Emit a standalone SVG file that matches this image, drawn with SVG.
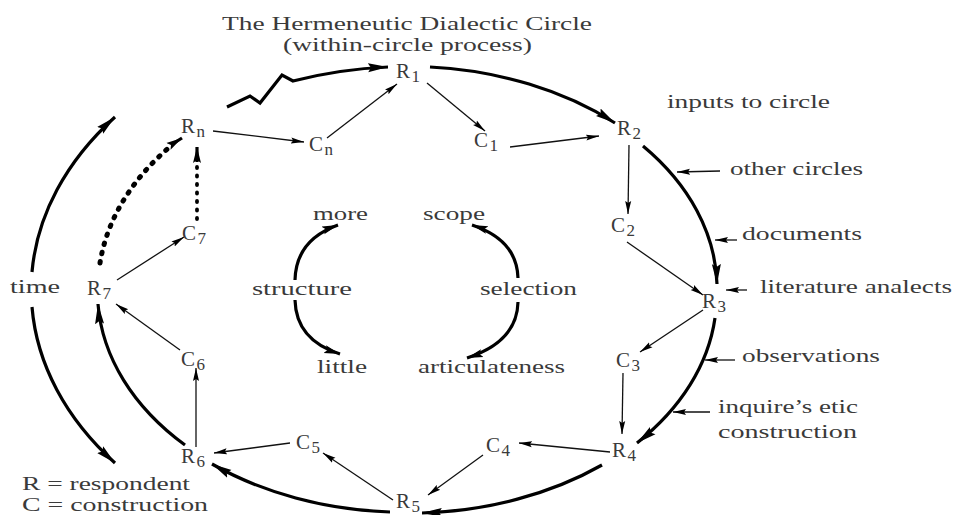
<svg xmlns="http://www.w3.org/2000/svg" width="958" height="515" viewBox="0 0 958 515">
<defs>
<marker id="big" markerUnits="userSpaceOnUse" markerWidth="22" markerHeight="10" refX="20" refY="5" orient="auto"><path d="M0,0.5 L20,5 L0,9.5 L3,5 z" fill="#000"/></marker>
<marker id="mid" markerUnits="userSpaceOnUse" markerWidth="18" markerHeight="10" refX="16" refY="5" orient="auto"><path d="M0,1 L16,5 L0,9 L3,5 z" fill="#000"/></marker>
<marker id="small" markerUnits="userSpaceOnUse" markerWidth="14" markerHeight="8" refX="13" refY="4" orient="auto"><path d="M0,1 L13,4 L0,7 L2,4 z" fill="#000"/></marker>
</defs>
<style>
text{font-family:"Liberation Serif","Times New Roman",serif;fill:#3a3a3a;font-size:19px}
.n{font-size:21px;letter-spacing:1.5px}
.s{font-size:17px}
.thick{fill:none;stroke:#000;stroke-width:3.2}
.thin{fill:none;stroke:#111;stroke-width:1.3}
.dot{fill:none;stroke:#000;stroke-linecap:round}
</style>
<rect width="958" height="515" fill="#fff"/>

<g id="title">
<text x="222" y="30" textLength="370" lengthAdjust="spacingAndGlyphs">The Hermeneutic Dialectic Circle</text>
<text x="283" y="51" textLength="249" lengthAdjust="spacingAndGlyphs">(within-circle process)</text>
</g>

<g id="connectors">
<path class="thick" d="M227,107 L250,96 L260,103 L282,75 L293,81 Q340,69 388,67" marker-end="url(#big)"/>
<path class="thick" d="M430,67 A310 220 0 0 1 615,123" marker-end="url(#big)"/>
<path class="thick" d="M643,146 A310 220 0 0 1 717,284" marker-end="url(#big)"/>
<path class="thick" d="M715,318 A310 220 0 0 1 637,443" marker-end="url(#big)"/>
<path class="thick" d="M602,465 A310 220 0 0 1 422,513" marker-end="url(#big)"/>
<path class="thick" d="M390,512 A310 220 0 0 1 212,464" marker-end="url(#big)"/>
<path class="thick" d="M185,445 A310 220 0 0 1 98,304" marker-end="url(#big)"/>
<path class="dot" stroke-width="5" stroke-dasharray="1.5 8" d="M100,263 A310 220 0 0 1 172,145"/>
<path class="thick" stroke-width="1" d="M174,143 L182,138" marker-end="url(#mid)"/>
<path class="dot" stroke-width="3.8" stroke-dasharray="1 7.5" d="M197,219 L197,160"/>
<path class="thick" stroke-width="1" d="M197,162 L197,147" marker-end="url(#mid)"/>
<path class="thick" d="M32,272 A378 275 0 0 1 115,117" marker-end="url(#big)"/>
<path class="thick" d="M32,307 A378 275 0 0 0 115,463" marker-end="url(#big)"/>
<path class="thin" d="M213,131 L304,142" marker-end="url(#small)"/>
<path class="thin" d="M327,138 L397,84" marker-end="url(#small)"/>
<path class="thin" d="M427,83 L485,131" marker-end="url(#small)"/>
<path class="thin" d="M510,147 L599,136" marker-end="url(#small)"/>
<path class="thin" d="M629,145 L628,214" marker-end="url(#small)"/>
<path class="thin" d="M627,242 L703,295" marker-end="url(#small)"/>
<path class="thin" d="M703,310 L640,352" marker-end="url(#small)"/>
<path class="thin" d="M623,373 L622,434" marker-end="url(#small)"/>
<path class="thin" d="M610,452 L519,443" marker-end="url(#small)"/>
<path class="thin" d="M483,455 L428,495" marker-end="url(#small)"/>
<path class="thin" d="M393,500 L323,453" marker-end="url(#small)"/>
<path class="thin" d="M290,443 L214,453" marker-end="url(#small)"/>
<path class="thin" d="M196,447 L196,368" marker-end="url(#small)"/>
<path class="thin" d="M180,350 L116,304" marker-end="url(#small)"/>
<path class="thin" d="M117,280 L184,237" marker-end="url(#small)"/>
<path class="thick" stroke-width="3" d="M295,280 Q296,240 338,225" marker-end="url(#mid)"/>
<path class="thick" stroke-width="3" d="M295,300 Q296,340 340,354" marker-end="url(#mid)"/>
<path class="thick" stroke-width="3" d="M518,278 Q517,240 472,225" marker-end="url(#mid)"/>
<path class="thick" stroke-width="3" d="M518,302 Q517,342 467,358" marker-end="url(#mid)"/>
<path class="thin" stroke-width="1.6" d="M720,171 L677,172" marker-end="url(#small)"/>
<path class="thin" stroke-width="1.6" d="M737,240 L715,240" marker-end="url(#small)"/>
<path class="thin" stroke-width="1.6" d="M747,290 L726,290" marker-end="url(#small)"/>
<path class="thin" stroke-width="1.6" d="M735,360 L705,360" marker-end="url(#small)"/>
<path class="thin" stroke-width="1.6" d="M710,412 L673,412" marker-end="url(#small)"/>
</g>

<g id="R1"><text class="n" x="396" y="78">R<tspan class="s" dy="4">1</tspan></text></g>
<g id="R2"><text class="n" x="617" y="135">R<tspan class="s" dy="4">2</tspan></text></g>
<g id="C1"><text class="n" x="474" y="147">C<tspan class="s" dy="4">1</tspan></text></g>
<g id="Cn"><text class="n" x="309" y="151">C<tspan class="s" dy="4">n</tspan></text></g>
<g id="Rn"><text class="n" x="181" y="133">R<tspan class="s" dy="4">n</tspan></text></g>
<g id="C2"><text class="n" x="611" y="232">C<tspan class="s" dy="4">2</tspan></text></g>
<g id="R3"><text class="n" x="702" y="308">R<tspan class="s" dy="4">3</tspan></text></g>
<g id="C3"><text class="n" x="616" y="367">C<tspan class="s" dy="4">3</tspan></text></g>
<g id="R4"><text class="n" x="612" y="457">R<tspan class="s" dy="4">4</tspan></text></g>
<g id="C4"><text class="n" x="486" y="452">C<tspan class="s" dy="4">4</tspan></text></g>
<g id="R5"><text class="n" x="396" y="508">R<tspan class="s" dy="4">5</tspan></text></g>
<g id="C5"><text class="n" x="296" y="449">C<tspan class="s" dy="4">5</tspan></text></g>
<g id="R6"><text class="n" x="181" y="463">R<tspan class="s" dy="4">6</tspan></text></g>
<g id="C6"><text class="n" x="181" y="366">C<tspan class="s" dy="4">6</tspan></text></g>
<g id="R7"><text class="n" x="87" y="295">R<tspan class="s" dy="4">7</tspan></text></g>
<g id="C7"><text class="n" x="182" y="240">C<tspan class="s" dy="4">7</tspan></text></g>

<g id="labels">
<text x="667" y="108" textLength="163" lengthAdjust="spacingAndGlyphs">inputs to circle</text>
<text x="730" y="175" textLength="133" lengthAdjust="spacingAndGlyphs">other circles</text>
<text x="742" y="240" textLength="120" lengthAdjust="spacingAndGlyphs">documents</text>
<text x="760" y="293" textLength="192" lengthAdjust="spacingAndGlyphs">literature analects</text>
<text x="742" y="362" textLength="138" lengthAdjust="spacingAndGlyphs">observations</text>
<text x="718" y="413" textLength="140" lengthAdjust="spacingAndGlyphs">inquire’s etic</text>
<text x="718" y="438" textLength="139" lengthAdjust="spacingAndGlyphs">construction</text>
<text x="10" y="293" textLength="50" lengthAdjust="spacingAndGlyphs">time</text>
<text x="313" y="220" textLength="55" lengthAdjust="spacingAndGlyphs">more</text>
<text x="423" y="220" textLength="62" lengthAdjust="spacingAndGlyphs">scope</text>
<text x="252" y="295" textLength="100" lengthAdjust="spacingAndGlyphs">structure</text>
<text x="480" y="295" textLength="97" lengthAdjust="spacingAndGlyphs">selection</text>
<text x="317" y="373" textLength="50" lengthAdjust="spacingAndGlyphs">little</text>
<text x="418" y="373" textLength="147" lengthAdjust="spacingAndGlyphs">articulateness</text>
<text x="22" y="490" textLength="168" lengthAdjust="spacingAndGlyphs">R = respondent</text>
<text x="22" y="511" textLength="186" lengthAdjust="spacingAndGlyphs">C = construction</text>
</g>
</svg>
